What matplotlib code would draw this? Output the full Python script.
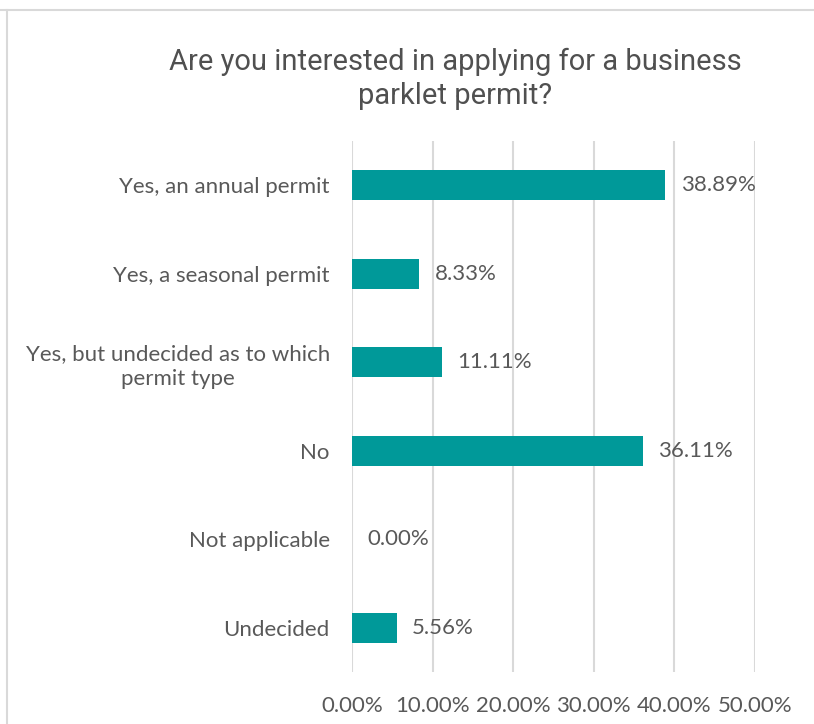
import matplotlib
matplotlib.use("Agg")
import matplotlib.pyplot as plt
from matplotlib.lines import Line2D

categories = ["Yes, an annual permit", "Yes, a seasonal permit",
              "Yes, but undecided as to which\npermit type", "No",
              "Not applicable", "Undecided"]
values = [38.89, 8.33, 11.11, 36.11, 0.00, 5.56]
xticks = [0, 10, 20, 30, 40, 50]
xtick_labels = ["0.00%", "10.00%", "20.00%", "30.00%", "40.00%", "50.00%"]
title = "Are you interested in applying for a business\nparklet permit?"

W, H = 814, 724
fig = plt.figure(figsize=(W / 100, H / 100), dpi=100)
fig.patch.set_facecolor("white")

txt = "#595959"
label_font = ["Lato", "DejaVu Sans"]
title_font = ["Roboto", "DejaVu Sans"]

ax = fig.add_axes([352 / W, 1 - 672 / H, (755 - 352) / W, (672 - 141) / H])
ypos = list(range(len(categories)))
ax.barh(ypos, values, height=0.34, color="#009999", zorder=3)
ax.set_ylim(len(categories) - 0.5, -0.5)
ax.set_xlim(0, 50)
ax.set_xticks(xticks)
ax.set_xticklabels(xtick_labels, fontsize=16, color=txt, family=label_font)
ax.set_yticks(ypos)
ax.set_yticklabels(categories, fontsize=16, color=txt, family=label_font,
                   multialignment="center", linespacing=1.3)
ax.tick_params(axis="both", length=0)
ax.tick_params(axis="x", pad=17)
ax.tick_params(axis="y", pad=16)
ax.grid(axis="x", color="#d9d9d9", linewidth=1.5, zorder=0)
for s in ax.spines.values():
    s.set_visible(False)

for y, v in zip(ypos, values):
    ax.annotate(f"{v:.2f}%", xy=(v, y), xytext=(11, 0), textcoords="offset points",
                va="center", ha="left", fontsize=16, color=txt, family=label_font)

fig.text(455 / W, 1 - 79 / H, title, ha="center", va="center", fontsize=21,
         color="#505050", family=title_font, linespacing=1.25)

fig.add_artist(Line2D([0, 1], [1 - 10 / H, 1 - 10 / H], transform=fig.transFigure,
                      color="#d9d9d9", linewidth=1.5))
fig.add_artist(Line2D([7 / W, 7 / W], [0, 1 - 10 / H], transform=fig.transFigure,
                      color="#d9d9d9", linewidth=1.5))

fig.savefig("out.png", dpi=100, facecolor="white")
